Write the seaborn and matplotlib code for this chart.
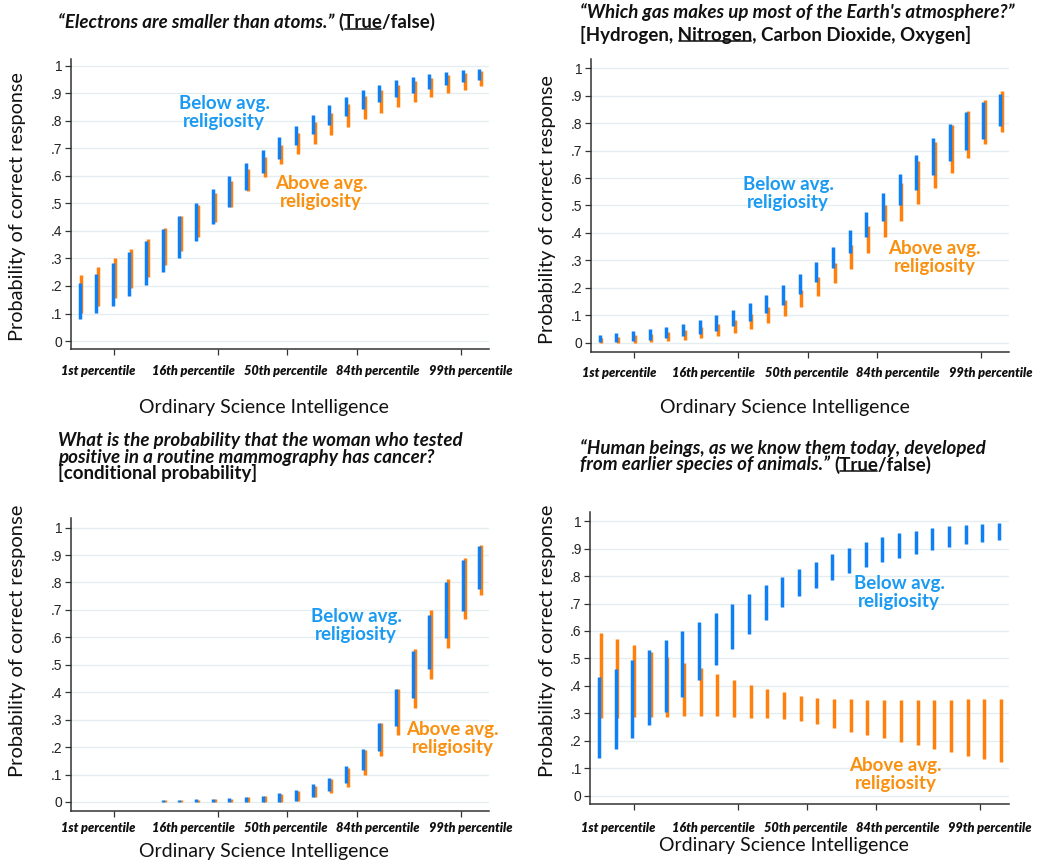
import numpy as np
import pandas as pd
import matplotlib
matplotlib.use("Agg")
import matplotlib.pyplot as plt
from matplotlib.lines import Line2D
import seaborn as sns

# ---------------------------------------------------------------
# Data: 95% intervals of predicted probability of a correct answer
# at 25 levels of Ordinary Science Intelligence, by religiosity
# ---------------------------------------------------------------
groups = ["Below avg. religiosity", "Above avg. religiosity"]
pct_labels = ["1st percentile", "16th percentile", "50th percentile",
              "84th percentile", "99th percentile"]

# Electrons are smaller than atoms
electrons_below_lo = [0.080, 0.101, 0.127, 0.163, 0.203, 0.251, 0.303, 0.363, 0.424, 0.488,
                      0.549, 0.609, 0.663, 0.711, 0.752, 0.786, 0.818, 0.843, 0.868, 0.886,
                      0.903, 0.917, 0.930, 0.941, 0.949]
electrons_below_hi = [0.212, 0.245, 0.282, 0.322, 0.362, 0.407, 0.454, 0.501, 0.551, 0.600,
                      0.648, 0.694, 0.740, 0.782, 0.822, 0.856, 0.886, 0.911, 0.932, 0.949,
                      0.961, 0.971, 0.978, 0.985, 0.989]
electrons_above_lo = [0.103, 0.127, 0.158, 0.194, 0.233, 0.278, 0.326, 0.379, 0.432, 0.488,
                      0.544, 0.596, 0.642, 0.681, 0.717, 0.749, 0.778, 0.806, 0.830, 0.852,
                      0.869, 0.886, 0.900, 0.913, 0.925]
electrons_above_hi = [0.239, 0.268, 0.301, 0.335, 0.370, 0.410, 0.453, 0.495, 0.538, 0.581,
                      0.626, 0.670, 0.712, 0.757, 0.796, 0.830, 0.862, 0.890, 0.911, 0.930,
                      0.944, 0.956, 0.966, 0.975, 0.981]

# Nitrogen
nitrogen_below_lo = [0.002, 0.002, 0.006, 0.011, 0.017, 0.023, 0.032, 0.044, 0.060, 0.080,
                     0.107, 0.137, 0.177, 0.222, 0.273, 0.328, 0.385, 0.443, 0.502, 0.558,
                     0.611, 0.662, 0.702, 0.744, 0.790]
nitrogen_below_hi = [0.028, 0.034, 0.041, 0.049, 0.058, 0.069, 0.083, 0.100, 0.120, 0.145,
                     0.172, 0.209, 0.249, 0.294, 0.347, 0.412, 0.475, 0.544, 0.616, 0.683,
                     0.745, 0.796, 0.841, 0.876, 0.908]
nitrogen_above_lo = [0.000, 0.000, 0.000, 0.002, 0.006, 0.011, 0.017, 0.024, 0.035, 0.051,
                     0.073, 0.097, 0.131, 0.170, 0.216, 0.270, 0.327, 0.386, 0.445, 0.506,
                     0.565, 0.620, 0.674, 0.723, 0.767]
nitrogen_above_hi = [0.018, 0.022, 0.027, 0.032, 0.039, 0.046, 0.057, 0.068, 0.083, 0.103,
                     0.129, 0.156, 0.192, 0.238, 0.292, 0.355, 0.425, 0.502, 0.583, 0.662,
                     0.731, 0.795, 0.844, 0.885, 0.916]

# Conditional probability (no estimates at the lowest five levels)
nan = np.nan
condprob_below_lo = [nan, nan, nan, nan, nan, 0.000, 0.000, 0.000, 0.000, 0.000,
                     0.000, 0.000, 0.001, 0.002, 0.019, 0.039, 0.070, 0.117, 0.187, 0.277,
                     0.379, 0.486, 0.597, 0.696, 0.776]
condprob_below_hi = [nan, nan, nan, nan, nan, 0.007, 0.007, 0.010, 0.011, 0.013,
                     0.018, 0.023, 0.032, 0.043, 0.064, 0.087, 0.130, 0.194, 0.287, 0.412,
                     0.550, 0.683, 0.801, 0.882, 0.934]
condprob_above_lo = [nan, nan, nan, nan, nan, 0.000, 0.000, 0.000, 0.000, 0.000,
                     0.000, 0.000, 0.000, 0.004, 0.017, 0.033, 0.056, 0.100, 0.166, 0.244,
                     0.342, 0.450, 0.563, 0.667, 0.753]
condprob_above_hi = [nan, nan, nan, nan, nan, 0.007, 0.007, 0.008, 0.009, 0.012,
                     0.017, 0.023, 0.029, 0.040, 0.058, 0.085, 0.124, 0.188, 0.286, 0.412,
                     0.558, 0.699, 0.813, 0.890, 0.937]

# Evolution
evolution_below_lo = [0.137, 0.172, 0.211, 0.257, 0.305, 0.359, 0.421, 0.477, 0.535, 0.590,
                      0.640, 0.688, 0.727, 0.757, 0.785, 0.811, 0.832, 0.850, 0.865, 0.880,
                      0.894, 0.905, 0.916, 0.925, 0.933]
evolution_below_hi = [0.432, 0.462, 0.495, 0.532, 0.567, 0.600, 0.632, 0.665, 0.699, 0.733,
                      0.766, 0.796, 0.826, 0.852, 0.879, 0.903, 0.924, 0.941, 0.955, 0.964,
                      0.974, 0.981, 0.985, 0.989, 0.994]
evolution_above_lo = [0.284, 0.284, 0.285, 0.288, 0.288, 0.290, 0.290, 0.290, 0.288, 0.284,
                      0.282, 0.279, 0.272, 0.260, 0.248, 0.233, 0.221, 0.209, 0.197, 0.184,
                      0.172, 0.158, 0.146, 0.135, 0.124]
evolution_above_hi = [0.592, 0.569, 0.549, 0.524, 0.505, 0.485, 0.466, 0.443, 0.422, 0.405,
                      0.390, 0.376, 0.364, 0.357, 0.352, 0.351, 0.350, 0.348, 0.348, 0.350,
                      0.350, 0.350, 0.351, 0.351, 0.352]

# ---------------------------------------------------------------
# Styling / layout
# ---------------------------------------------------------------
W, H = 1038, 866
BLUE, ORANGE = "#0f7ff5", "#ff800c"
BLUE_TXT, ORANGE_TXT = "#1b9af2", "#f9900f"
TXT_FONT = ["Lato", "DejaVu Sans"]
NUM_FONT = ["Liberation Sans", "DejaVu Sans"]

sns.set_theme(style="white")
plt.rcParams["font.family"] = TXT_FONT

fig = plt.figure(figsize=(W / 100, H / 100), dpi=100)
renderer = fig.canvas.get_renderer()

n_levels = 25
tick_pos = [2.08, 8.32, 12.48, 16.63, 22.88]
label_pos = [1.15, 6.85, 12.4, 17.9, 23.47]
bar_shift = 0.11


def px(x, y):
    return x / W, 1 - y / H


def interval_frame(b_lo, b_hi, a_lo, a_hi):
    rows = []
    for g, lo, hi, dx in ((groups[1], a_lo, a_hi, bar_shift),
                          (groups[0], b_lo, b_hi, 0.0)):
        for i in range(n_levels):
            if np.isnan(lo[i]):
                continue
            for v in (lo[i], hi[i]):
                rows.append({"osi": i + dx, "prob": v, "group": g, "unit": f"{g}-{i}"})
    return pd.DataFrame(rows)


def draw_panel(rect, ylim, data, below_xy, above_xy, pct_y, xlab_xy, ylab_xy, ylab_size):
    ax = fig.add_axes(rect)
    df = interval_frame(*data)
    sns.lineplot(data=df, x="osi", y="prob", hue="group", units="unit",
                 estimator=None, sort=False, hue_order=[groups[1], groups[0]],
                 palette={groups[0]: BLUE, groups[1]: ORANGE},
                 lw=2.5, solid_capstyle="butt", legend=False, ax=ax)
    ax.set_xlim(-0.53, 24.58)
    ax.set_ylim(*ylim)
    ax.set_yticks(np.arange(0, 1.01, 0.1))
    ax.set_yticklabels(["0", ".1", ".2", ".3", ".4", ".5", ".6", ".7", ".8", ".9", "1"],
                       fontfamily=NUM_FONT, fontsize=10, color="#222222")
    ax.set_xticks(tick_pos)
    ax.set_xticklabels([])
    ax.tick_params(axis="both", direction="out", length=4.5, width=0.9,
                   color="#333333", bottom=True, left=True, pad=1.5)
    ax.yaxis.grid(True, color="#e4eef1", lw=1.0)
    ax.xaxis.grid(False)
    ax.set_axisbelow(True)
    for s in ("top", "right"):
        ax.spines[s].set_visible(False)
    for s in ("left", "bottom"):
        ax.spines[s].set_color("#333333")
        ax.spines[s].set_linewidth(1.1)
    ax.set_xlabel("")
    ax.set_ylabel("")

    ax.text(*below_xy, "Below avg.\nreligiosity", color=BLUE_TXT, fontsize=13.5,
            fontweight="bold", ha="center", va="center", linespacing=1.05)
    ax.text(*above_xy, "Above avg.\nreligiosity", color=ORANGE_TXT, fontsize=13.5,
            fontweight="bold", ha="center", va="center", linespacing=1.05)

    trans = ax.get_xaxis_transform()
    y_ax = -(pct_y - (1 - rect[1]) * H) / (rect[3] * H)
    for xp, lab in zip(label_pos, pct_labels):
        ax.text(xp, y_ax, lab, transform=trans, ha="center", va="center",
                fontsize=9.2, fontweight="heavy", fontstyle="italic", color="#111111",
                clip_on=False)

    fig.text(*px(*xlab_xy), "Ordinary Science Intelligence", ha="center", va="center",
             fontsize=14, color="#111111")
    fig.text(*px(*ylab_xy), "Probability of correct response", ha="center", va="center",
             rotation=90, fontsize=ylab_size, color="#111111")
    return ax


def _style(italic, size):
    return dict(fontsize=size, fontweight="bold",
                fontstyle="italic" if italic else "normal", color="#111111")


def _width(s, italic, size):
    t = fig.text(0, 0, s, **_style(italic, size))
    w = t.get_window_extent(renderer).width
    t.remove()
    return w


def title_line(x, y, pieces, underline=None, size=13.5):
    """One line of question text built from (text, italic) pieces.

    underline: (piece index, substring) to be underlined.
    """
    cur = x
    for k, (text, italic) in enumerate(pieces):
        t = fig.text(cur / W, 1 - y / H, text, ha="left", va="center",
                     **_style(italic, size))
        bb = t.get_window_extent(renderer)
        if underline is not None and underline[0] == k:
            sub = underline[1]
            start = cur + _width(text[:text.index(sub)], italic, size) if text.index(sub) else cur
            end = start + _width(sub, italic, size)
            yl = bb.y0 + 0.17 * size
            fig.add_artist(Line2D([(start + 1) / W, (end - 1) / W], [yl / H, yl / H],
                                  color="#333333", lw=1.3))
        cur = bb.x1


# Panels
draw_panel([0.0681, 0.5970, 0.4030, 0.3349], (-0.029, 1.025),
           (electrons_below_lo, electrons_below_hi, electrons_above_lo, electrons_above_hi),
           (8.68, 0.83), (14.5, 0.54), 371, (264, 408), (18, 207), 14.3)
draw_panel([0.5691, 0.5939, 0.4033, 0.3380], (-0.033, 1.034),
           (nitrogen_below_lo, nitrogen_below_hi, nitrogen_above_lo, nitrogen_above_hi),
           (11.3, 0.543), (20.1, 0.31), 373, (785, 408), (548, 210), 14.3)
draw_panel([0.0681, 0.0635, 0.4030, 0.3380], (-0.033, 1.034),
           (condprob_below_lo, condprob_below_hi, condprob_above_lo, condprob_above_hi),
           (16.6, 0.642), (22.4, 0.232), 828, (264, 852), (18, 641), 14.5)
draw_panel([0.5684, 0.0716, 0.4034, 0.3368], (-0.030, 1.032),
           (evolution_below_lo, evolution_below_hi, evolution_above_lo, evolution_above_hi),
           (18.0, 0.74), (17.8, 0.078), 828, (784, 845), (548, 641), 14.5)

# Question texts
title_line(58, 22, [("\u201cElectrons are smaller than atoms.\u201d ", True),
                    ("(True/false)", False)], underline=(1, "True"))
title_line(580, 12.5, [("\u201cWhich gas makes up most of the Earth's atmosphere?\u201d", True)])
title_line(580, 34.5, [("[Hydrogen, Nitrogen, Carbon Dioxide, Oxygen]", False)],
           underline=(0, "Nitrogen"))
title_line(58, 440, [("What is the probability that the woman who tested", True)])
title_line(58, 457, [("positive in a routine mammography has cancer?", True)])
title_line(58, 473.5, [("[conditional probability]", False)])
title_line(580, 448, [("\u201cHuman beings, as we know them today, developed", True)])
title_line(580, 464.5, [("from earlier species of animals.\u201d ", True),
                        ("(True/false)", False)], underline=(1, "True"))

fig.savefig("out.png", dpi=100)
